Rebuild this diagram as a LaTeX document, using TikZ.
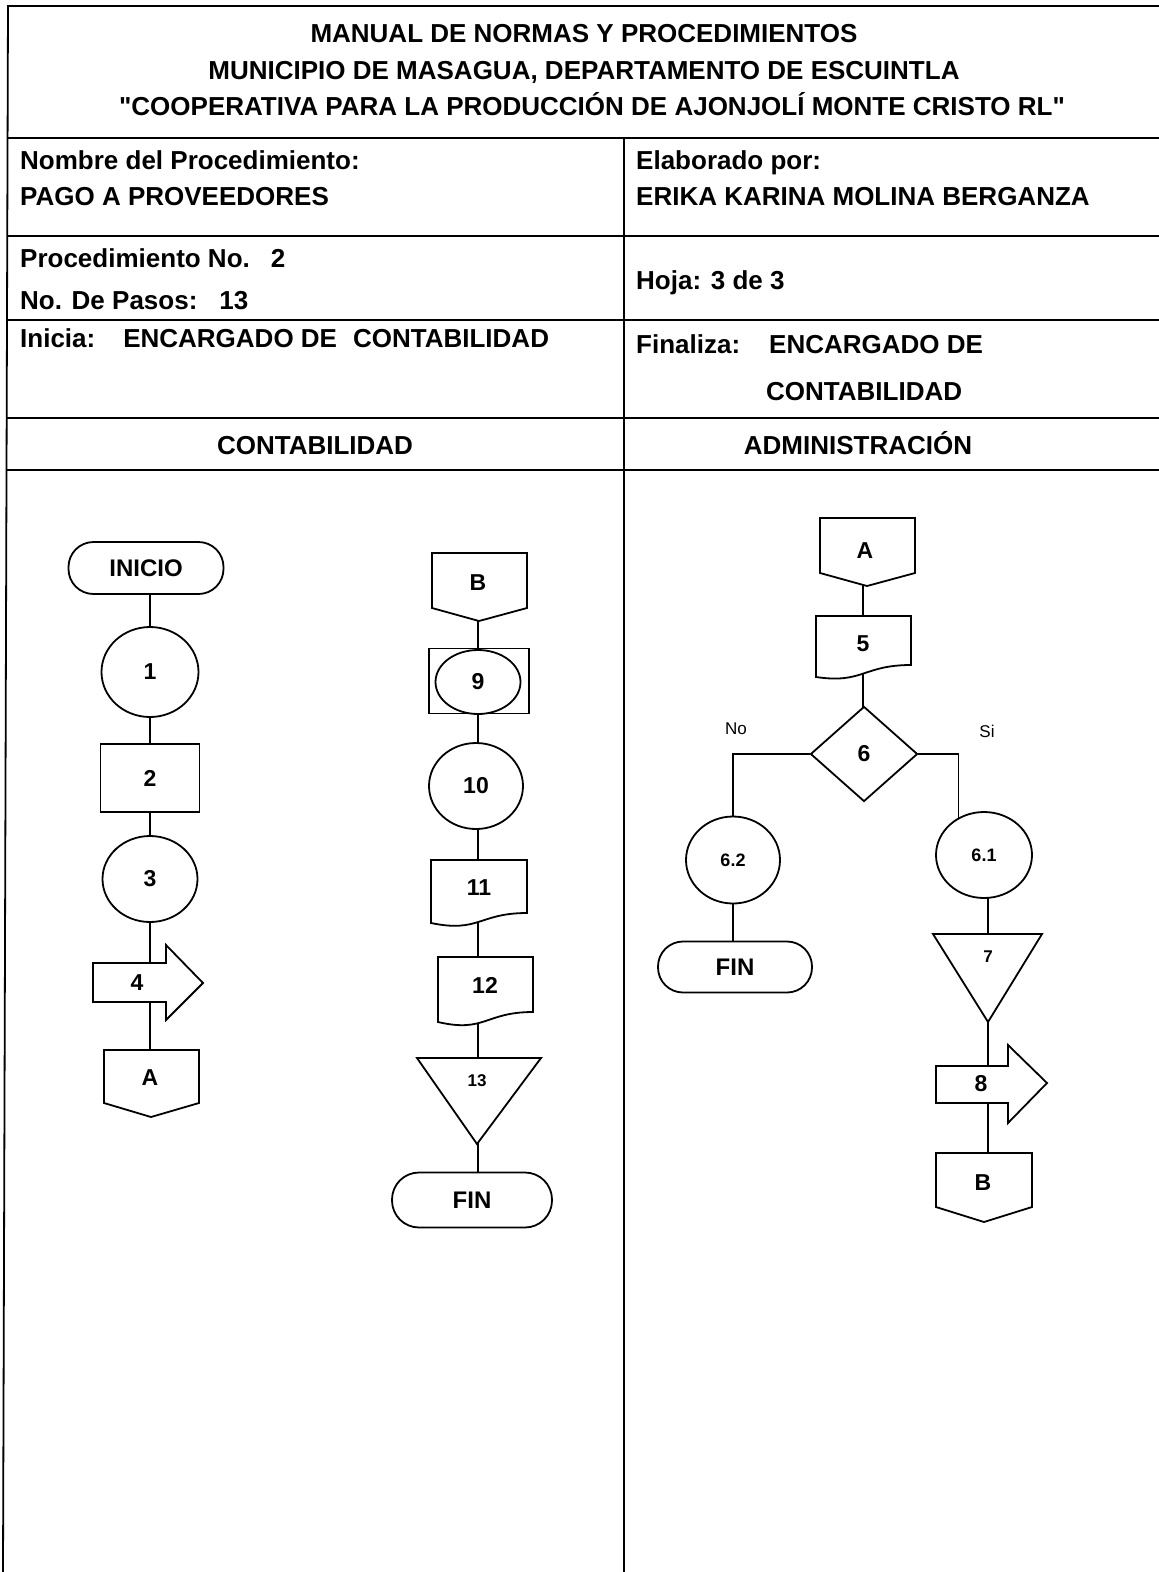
\documentclass[tikz,border=0pt]{standalone}
\usepackage{fontspec}
\setmainfont{Liberation Sans}
\newfontfamily\straightfont{Liberation Sans}[Ligatures=TeXOff]
\usetikzlibrary{shapes.geometric}
\pgfdeclarelayer{background}
\pgfdeclarelayer{shapes}
\pgfsetlayers{background,shapes,main}
% outline of a hand-drawn symbol, given relative to the centre of its label node
\newcommand\outlineat[2]{\begin{pgfonlayer}{shapes}\draw[shp, shift={(#1.center)}] #2;\end{pgfonlayer}}
% straight double quote
\newcommand\dq{{\straightfont\bfseries\symbol{34}}}
\begin{document}
\begin{tikzpicture}[x=1pt,y=-1pt,
  rule/.style={line width=1.8pt},
  shp/.style={draw, line width=1.8pt, fill=white},
  conn/.style={line width=1.8pt},
  hd/.style={font=\fontsize{26}{26}\selectfont\bfseries, inner sep=0pt},
  lbl/.style={font=\fontsize{23}{23}\selectfont\bfseries, inner sep=0pt},
  sml/.style={font=\fontsize{17}{17}\selectfont\bfseries, inner sep=0pt},
  branch/.style={font=\fontsize{17}{17}\selectfont, inner sep=0pt},
  term/.style={shp, rectangle, rounded corners=25pt, inner sep=0pt,
    font=\fontsize{24}{24}\selectfont\bfseries},
  circ/.style={shp, ellipse, inner sep=0pt, font=\fontsize{23}{23}\selectfont\bfseries},
  box/.style={shp, rectangle, inner sep=0pt, font=\fontsize{23}{23}\selectfont\bfseries},
]
\useasboundingbox (0,0) rectangle (1159,1572);

% ---------- form frame ----------
\draw[rule] (1159,6) -- (8,6) -- (3,1572);
\foreach \yy in {138,236,320,418,470} \draw[rule] (7,\yy) -- (1159,\yy);
\draw[rule] (624,138) -- (624,1572);

% ---------- header texts ----------
\node[hd, anchor=base] (t1) at (584,42) {MANUAL DE NORMAS Y PROCEDIMIENTOS};
\node[hd, anchor=base] (t2) at (584,79) {MUNICIPIO DE MASAGUA, DEPARTAMENTO DE ESCUINTLA};
\node[hd, anchor=base] (t3) at (592,115) {\dq COOPERATIVA PARA LA PRODUCCIÓN DE AJONJOLÍ MONTE CRISTO RL\dq};

\node[hd, anchor=base west] (n1) at (20,169) {Nombre del Procedimiento:};
\node[hd, anchor=base west] (n2) at (20,205) {PAGO A PROVEEDORES};
\node[hd, anchor=base west] (e1) at (636,169) {Elaborado por:};
\node[hd, anchor=base west] (e2) at (636,205) {ERIKA KARINA MOLINA BERGANZA};

\node[hd, anchor=base west] (p1) at (20,267) {Procedimiento No.\hspace{21pt}2};
\node[hd, anchor=base west] (p2) at (20,309) {No. De Pasos:\hspace{22pt}13};
\node[hd, anchor=base west] (h1) at (636,289) {Hoja: 3 de 3};

\node[hd, anchor=base west] (i1) at (20,347) {Inicia:\hspace{28pt}ENCARGADO DE\hspace{16pt}CONTABILIDAD};
\node[hd, anchor=base west] (f1) at (636,353) {Finaliza:\hspace{29pt}ENCARGADO DE};
\node[hd, anchor=base west] (f2) at (766,400) {CONTABILIDAD};

\node[hd, anchor=base] (col1) at (315,454) {CONTABILIDAD};
\node[hd, anchor=base] (col2) at (858,454) {ADMINISTRACIÓN};

% ---------- left column: Contabilidad ----------
\node[term, minimum width=155pt, minimum height=52pt] (inicio) at (146,568) {INICIO};
\node[circ, minimum width=97pt, minimum height=90pt] (c1) at (150,672) {1};
\node[box, minimum width=99pt, minimum height=68pt] (r2) at (150,778) {2};
\node[circ, minimum width=95pt, minimum height=86pt] (c3) at (150,879) {3};
\node[lbl] (s4) at (137,983) {4};
\outlineat{s4}{(-44,-20) -- (29,-20) -- (29,-38) -- (66,0) -- (29,37) -- (29,19) -- (-44,19) -- cycle}
\node[lbl] (offA) at (150,1078) {A};
\outlineat{offA}{(-46,-28) -- (49,-28) -- (49,25) -- (1,39) -- (-46,25) -- cycle}

% ---------- middle column: Contabilidad ----------
\node[lbl] (offB) at (478,583) {B};
\outlineat{offB}{(-46,-30) -- (49,-30) -- (49,25) -- (1,38) -- (-46,25) -- cycle}
\node[box, minimum width=100pt, minimum height=65pt] (r9) at (479,681) {};
\node[circ, minimum width=85pt, minimum height=64pt] (e9) at (478,682) {9};
\node[circ, minimum width=94pt, minimum height=86pt] (c10) at (476,786) {10};
\node[lbl] (d11) at (479,888) {11};
\outlineat{d11}{(-48,-28) -- (48,-28) -- (48,25) .. controls (0,25) and (0,45) .. (-48,35) -- cycle}
\node[lbl] (d12) at (485,985) {12};
\outlineat{d12}{(-47,-28) -- (48,-28) -- (48,27) .. controls (0,27) and (0,48) .. (-47,37) -- cycle}
\node[sml] (t13) at (477,1081) {13};
\outlineat{t13}{(-60,-23) -- (64,-23) -- (0,63) -- cycle}
\node[term, minimum width=160pt, minimum height=55pt, rounded corners=27pt] (finB) at (472,1200) {FIN};

% ---------- right column: Administración ----------
\node[lbl] (offA2) at (865,551) {A};
\outlineat{offA2}{(-45,-33) -- (50,-33) -- (50,22) -- (2,35) -- (-45,22) -- cycle}
\node[lbl] (d5) at (863,644) {5};
\outlineat{d5}{(-47,-28) -- (48,-28) -- (48,21) .. controls (0,21) and (0,40) .. (-47,33) -- cycle}
\node[shp, diamond, inner sep=0pt, minimum width=107pt, minimum height=95pt,
  font=\fontsize{23}{23}\selectfont\bfseries] (dia6) at (864,754) {6};
\node[branch] (no) at (736,729) {No};
\node[branch] (si) at (987,731) {Si};

\node[circ, minimum width=94pt, minimum height=87pt, font=\fontsize{18}{18}\selectfont\bfseries] (c62) at (733,860) {6.2};
\node[term, minimum width=154pt, minimum height=51pt] (finA) at (735,967) {FIN};

\node[circ, minimum width=96pt, minimum height=86pt, font=\fontsize{18}{18}\selectfont\bfseries] (c61) at (984,855) {6.1};
\node[sml] (t7) at (988,957) {7};
\outlineat{t7}{(-55,-23) -- (54,-23) -- (0,65) -- cycle}
\node[lbl] (s8) at (981,1084) {8};
\outlineat{s8}{(-45,-18) -- (27,-18) -- (27,-39) -- (66,-1) -- (27,39) -- (27,19) -- (-45,19) -- cycle}
\node[lbl] (offB2) at (983,1183) {B};
\outlineat{offB2}{(-47,-30) -- (49,-30) -- (49,24) -- (1,39) -- (-47,24) -- cycle}

% ---------- connectors ----------
\begin{pgfonlayer}{background}
\draw[conn] (c1 |- inicio) -- (c1) -- (r2) -- (c3) -- (c3 |- s4);
\draw[conn] (offA |- s4) -- (offA);
\draw[conn] (offB) -- (offB |- r9) -- (offB |- c10) -- (offB |- d11)
  -- (offB |- d12) -- (offB |- t13) -- (offB |- finB);
\draw[conn] (offA2) -- (offA2 -| d5) -- (d5) -- (d5 |- dia6);
\draw[conn] (dia6.west) -| (c62);
\draw[conn] (c62) -- (c62 |- finA);
\draw[conn] (dia6.east) -- ++(40,0) |- (c61);
\draw[conn] (t7 |- c61) -- (t7) -- (t7 |- s8) -- (t7 |- offB2);
\end{pgfonlayer}
\end{tikzpicture}
\end{document}
